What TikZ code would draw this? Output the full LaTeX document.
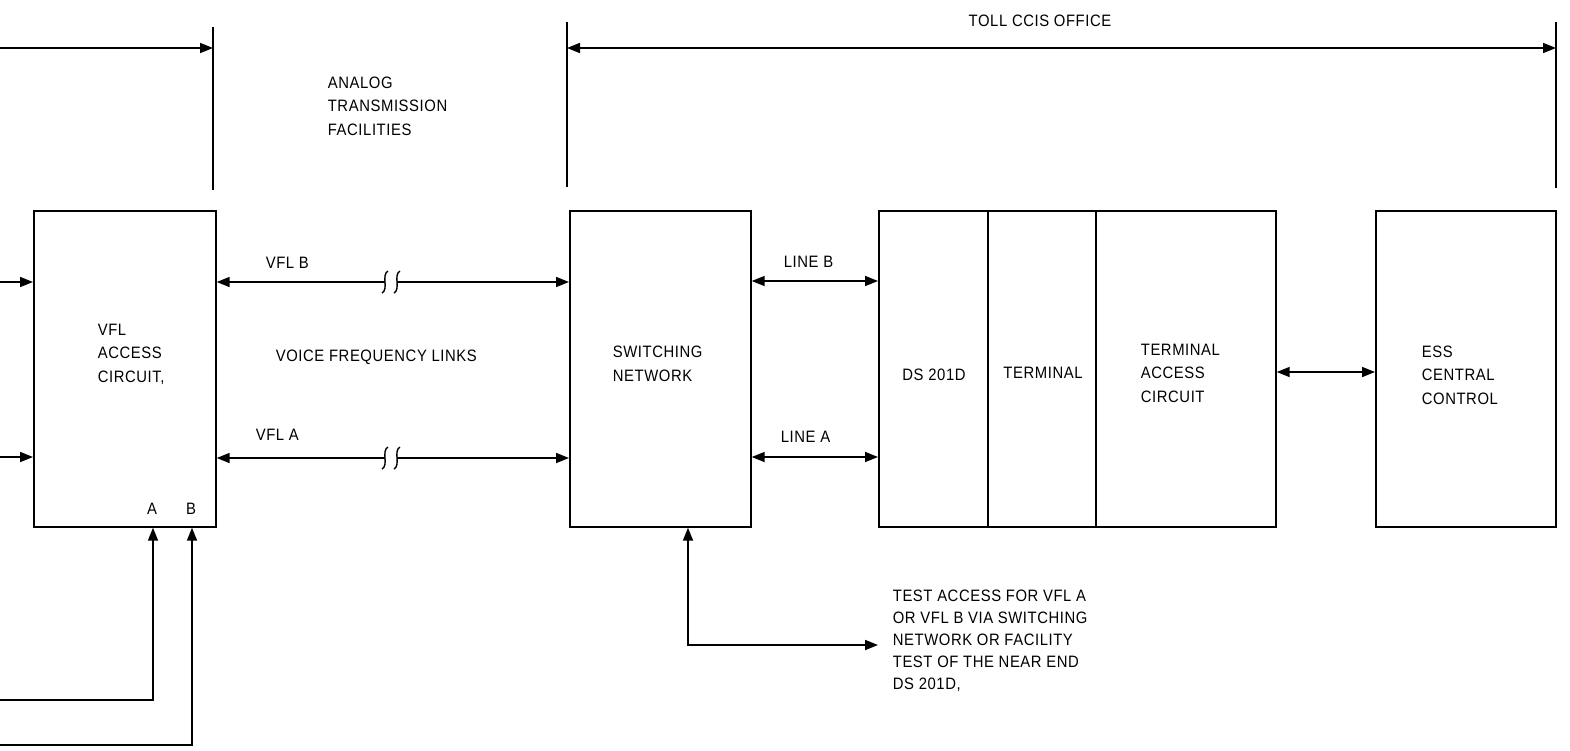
\documentclass[tikz,border=0pt]{standalone}
\usepackage{fontspec}
\setmainfont[LetterSpace=3.5,FakeStretch=0.9]{Liberation Sans}
\usetikzlibrary{arrows.meta}
\begin{document}
\begin{tikzpicture}[x=1pt,y=-1pt,line width=1.7pt,
  blk/.style={draw,rectangle,inner sep=0pt,anchor=north west},
  lbl/.style={inner sep=0pt,align=left,font=\fontsize{16.5}{23.5}\selectfont},
  tip/.style={-{Triangle[length=13pt,width=10pt]}},
  dtip/.style={{Triangle[length=13pt,width=10pt]}-{Triangle[length=13pt,width=10pt]}},
  brk/.style={line width=1.4pt}]
\useasboundingbox (0,0) rectangle (1570,750);
% blocks
\node[blk,minimum width=182pt,minimum height=316pt] (vfl) at (33,210) {};
\node[blk,minimum width=181pt,minimum height=316pt] (sw) at (569,210) {};
\node[blk,minimum width=109pt,minimum height=316pt] (ds) at (878,210) {};
\node[blk,minimum width=108pt,minimum height=316pt] (term) at (987,210) {};
\node[blk,minimum width=180pt,minimum height=316pt] (tac) at (1095,210) {};
\node[blk,minimum width=180pt,minimum height=316pt] (ess) at (1375,210) {};
% block texts
\node[lbl,anchor=west] (tvfl) at (97,354) {VFL\\ACCESS\\CIRCUIT,};
\node[lbl] (tA) at (152,509) {A};
\node[lbl] (tB) at (191,509) {B};
\node[lbl,anchor=west] (tsw) at (612,364) {SWITCHING\\NETWORK};
\node[lbl] (tds) at (934,375) {DS 201D};
\node[lbl] (tterm) at (1043,373) {TERMINAL};
\node[lbl,anchor=west] (ttac) at (1140,373) {TERMINAL\\ACCESS\\CIRCUIT};
\node[lbl,anchor=west] (tess) at (1421,375) {ESS\\CENTRAL\\CONTROL};
% other texts
\node[lbl,anchor=west] (analog) at (327,106) {ANALOG\\TRANSMISSION\\FACILITIES};
\node[lbl] (toll) at (1040,21) {TOLL CCIS OFFICE};
\node[lbl,anchor=west] (vfllinks) at (275,357) {VOICE FREQUENCY LINKS};
\node[lbl,anchor=west] (lvflb) at (265,263) {VFL B};
\node[lbl,anchor=west] (lvfla) at (255,435) {VFL A};
\node[lbl,anchor=west] (llineb) at (783,262) {LINE B};
\node[lbl,anchor=west] (llinea) at (780,437) {LINE A};
\node[lbl,anchor=west,font=\fontsize{16.5}{22}\selectfont] (test) at (892,641)
  {TEST ACCESS FOR VFL A\\OR VFL B VIA SWITCHING\\NETWORK OR FACILITY\\TEST OF THE NEAR END\\DS 201D,};
% coordinates
\coordinate (dL1) at (213,27);
\coordinate (dL2) at (213,190);
\coordinate (dLs) at (0,48);
\coordinate (dR1) at (567,22);
\coordinate (dR2) at (567,187);
\coordinate (dE1) at (1556,22);
\coordinate (dE2) at (1556,188);
\coordinate (inB) at (0,282);
\coordinate (inA) at (0,457);
\coordinate (bAin) at (0,700);
\coordinate (bBin) at (0,745);
\coordinate (xA) at (153,0);
\coordinate (xB) at (192,0);
\coordinate (brkBl) at (385,282);
\coordinate (brkBr) at (397,282);
\coordinate (brkAl) at (385,458);
\coordinate (brkAr) at (397,458);
\coordinate (xT) at (688,0);
\coordinate (testEnd) at (878,645);
% dimension lines
\draw (dL1) -- (dL2);
\draw[tip] (dLs) -- (dLs -| dL1);
\draw (dR1) -- (dR2);
\draw (dE1) -- (dE2);
\draw[dtip] (dR1 |- dLs) -- (dE1 |- dLs);
% inputs to VFL access circuit
\draw[tip] (inB) -- (inB -| vfl.west);
\draw[tip] (inA) -- (inA -| vfl.west);
\draw[tip] (bAin) -| (vfl.south -| xA);
\draw[tip] (bBin) -| (vfl.south -| xB);
% voice frequency links with break marks
\draw[tip] (brkBl) -- (brkBl -| vfl.east);
\draw[tip] (brkBr) -- (brkBr -| sw.west);
\draw[tip] (brkAl) -- (brkAl -| vfl.east);
\draw[tip] (brkAr) -- (brkAr -| sw.west);
\foreach \c in {brkBl,brkBr,brkAl,brkAr}{
  \draw[brk] ([shift={(3,-11)}]\c) .. controls ([shift={(-4,-7)}]\c) and ([shift={(4,7)}]\c) .. ([shift={(-3,11)}]\c);
}
% lines to DS 201D
\draw[dtip] (sw.east |- 0,281) -- (ds.west |- 0,281);
\draw[dtip] (sw.east |- 0,457) -- (ds.west |- 0,457);
% to ESS
\draw[dtip] (tac.east |- 0,372) -- (ess.west |- 0,372);
% test access
\draw[dtip] (sw.south -| xT) |- (testEnd);
\end{tikzpicture}
\end{document}
